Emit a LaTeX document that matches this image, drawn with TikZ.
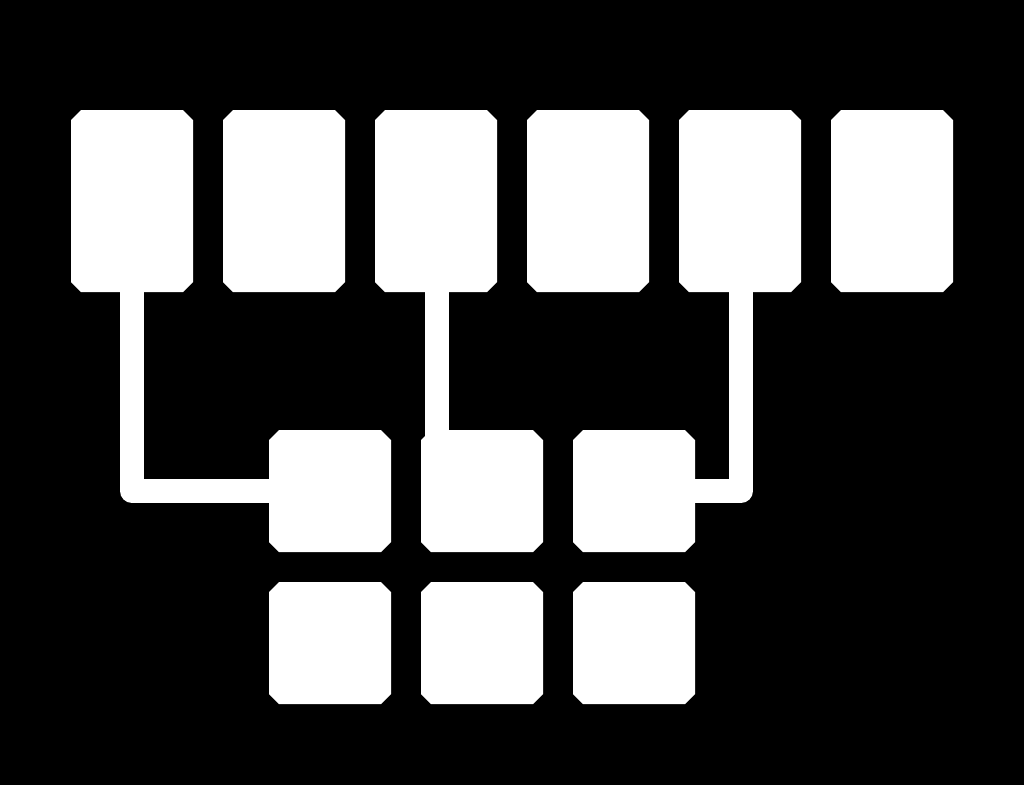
\documentclass[tikz,border=0pt]{standalone}
\usetikzlibrary{calc}
\begin{document}
\begin{tikzpicture}[x=0.5pt,y=-0.5pt,
	boite/.style={rectangle, draw=none, fill=none, inner sep=0pt,
		path picture={\fill[white]
			($(path picture bounding box.south west)+(5pt,0)$) -- ($(path picture bounding box.south east)+(-5pt,0)$) --
			($(path picture bounding box.south east)+(0,5pt)$) -- ($(path picture bounding box.north east)+(0,-5pt)$) --
			($(path picture bounding box.north east)+(-5pt,0)$) -- ($(path picture bounding box.north west)+(5pt,0)$) --
			($(path picture bounding box.north west)+(0,-5pt)$) -- ($(path picture bounding box.south west)+(0,5pt)$) -- cycle;}},
	haute/.style={boite, minimum width=61pt, minimum height=91pt},
	carre/.style={boite, minimum width=61pt, minimum height=61pt},
	lien/.style={draw=white, line width=12pt, line join=round}]
			% le fond
			\useasboundingbox (0,0) rectangle (1024,784);
			\fill[black] (-10,-10) rectangle (1034,794);
			% les liens
			\coordinate (c1) at (132,292);
			\coordinate (c3) at (437,292);
			\coordinate (c5) at (741,292);
			% les boites du haut
			\foreach \i/\x in {1/132,2/284,3/436,4/588,5/740,6/892}
				\node[haute] (h\i) at (\x,201) {};
			% les carres
			\foreach \i/\x in {1/330,2/482,3/634} {
				\node[carre] (m\i) at (\x,491) {};
				\node[carre] (b\i) at (\x,643) {};
			}
			\draw[lien] (h1.south) |- (m1.west);
			\draw[lien] (c3) -- ($(c3 |- m2.north)+(0,10)$);
			\draw[lien] (c5) |- (m3.east);
		\end{tikzpicture}
\end{document}
